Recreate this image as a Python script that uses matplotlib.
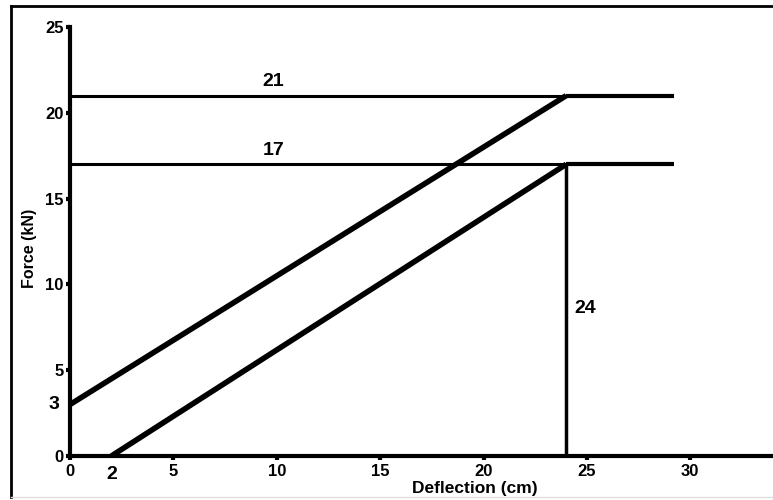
import matplotlib.pyplot as plt
from matplotlib.lines import Line2D

# data
upper_x = [0, 24]
upper_y = [3, 21]
lower_x = [2, 24]
lower_y = [0, 17]
tail_end = 29.2
levels = [21, 17]
level_labels = ['21', '17']
vert_x = 24
xticks = [0, 5, 10, 15, 20, 25, 30]
yticks = [0, 5, 10, 15, 20, 25]

plt.rcParams['font.family'] = ['Liberation Sans', 'DejaVu Sans']

fig = plt.figure(figsize=(7.73, 5), dpi=100)
ax = fig.add_axes([70 / 773, 44 / 500, 703 / 773, 429 / 500])

# thin reference lines
for lv in levels:
    ax.plot([0, vert_x], [lv, lv], color='black', lw=2.2, solid_capstyle='butt')
ax.plot([vert_x, vert_x], [0, lower_y[1]], color='black', lw=2.5, solid_capstyle='butt')

# thick force-deflection lines with flat tails
for xs, ys in [(upper_x, upper_y), (lower_x, lower_y)]:
    ax.plot(xs, ys, color='black', lw=4, solid_capstyle='butt')
    ax.plot([xs[-1], tail_end], [ys[-1], ys[-1]], color='black', lw=3, solid_capstyle='butt')

for lv, lab in zip(levels, level_labels):
    ax.text(9.85, lv + 0.3, lab, ha='center', va='bottom', fontsize=14, fontweight='bold')
ax.text(24.4, 8.6, '24', ha='left', va='center', fontsize=14, fontweight='bold')

ax.set_xlim(0, 34)
ax.set_ylim(0, 25)
ax.set_xticks(xticks)
ax.set_yticks(yticks)
ax.tick_params(length=3, width=3, labelsize=12, pad=1.5)
ax.tick_params(axis='x', pad=3)
for lab in ax.get_xticklabels() + ax.get_yticklabels():
    lab.set_fontweight('bold')
for s in ['top', 'right']:
    ax.spines[s].set_visible(False)
for s in ['left', 'bottom']:
    ax.spines[s].set_linewidth(3)

# special bold labels at 3 and 2
ax.text(-0.5, 3, '3', ha='right', va='center', fontsize=14, fontweight='bold', clip_on=False)
ax.text(2, -0.6, '2', ha='center', va='top', fontsize=14, fontweight='bold', clip_on=False)

fig.text(475 / 773, 1 - 489 / 500, 'Deflection (cm)', ha='center', va='center', fontsize=12.5, fontweight='bold')
fig.text(30 / 773, 1 - 248 / 500, 'Force (kN)', ha='center', va='center', rotation=90, fontsize=11.5, fontweight='bold')

# outer frame
fig.add_artist(Line2D([11 / 773, 1], [1 - 6 / 500, 1 - 6 / 500], color='black', lw=2, transform=fig.transFigure))
fig.add_artist(Line2D([11 / 773, 11 / 773], [1 - 6 / 500, 1 - 497 / 500], color='black', lw=2, transform=fig.transFigure))
fig.add_artist(Line2D([11 / 773, 1], [1 - 497 / 500, 1 - 497 / 500], color='#dddddd', lw=1, transform=fig.transFigure))

fig.savefig('out.png', dpi=100)
